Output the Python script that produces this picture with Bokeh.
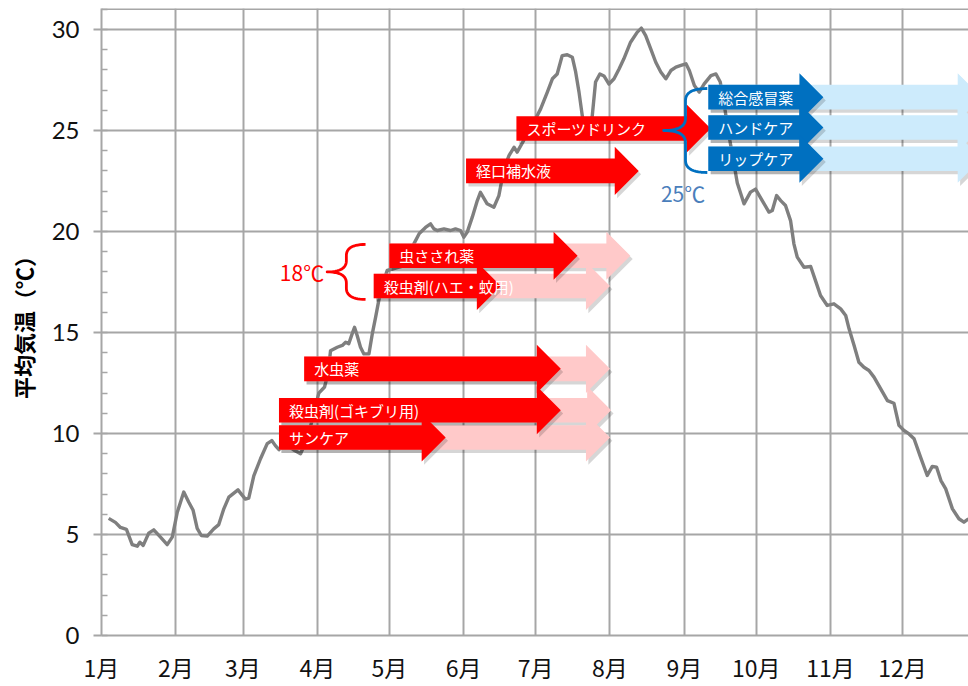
import numpy as np
from bokeh.plotting import figure
from bokeh.models import FixedTicker, Range1d, Span, ColumnDataSource
from bokeh.core.properties import value
from bokeh.embed import file_html
from bokeh.resources import INLINE

# ---------------- data ----------------
# daily mean temperature (day of year, degC)
days = [3, 5.8, 7.9, 10.4, 12.8, 14.9, 16, 17.4, 19.7, 21.8, 24.6, 27.4, 29.5, 31.6, 34.3, 36.4,
        38.2, 39.9, 41.6, 44.1, 46.8, 48.9, 51, 53.1, 55.2, 56.9, 58.3, 60, 61.4, 63.5, 66.3,
        69.1, 71, 72.5, 74, 76, 80, 83, 86, 88.5, 90.6, 93, 94.5, 95.5, 98.3, 100.4, 101.8,
        103.1, 104.5, 105.5, 106.6, 108, 109.4, 111.5, 112.9, 114.3, 115.6, 117, 119.1, 123,
        126, 128, 130.3, 132.5, 135.1, 137.2, 138.6, 140, 142.8, 145.5, 147.6, 149.7, 151.1,
        152.5, 154.6, 156.7, 158, 160.8, 163.6, 165.7, 167.8, 169.9, 172, 173.3, 176, 178,
        180.2, 183.1, 185.9, 188, 190, 192.1, 194.2, 196.3, 197.7, 199.1, 200.5, 202, 203.5,
        204.6, 206, 207.8, 209.5, 211.6, 213.7, 215.8, 217.8, 220.6, 223.4, 225.1, 226.9, 229,
        231.1, 233.2, 235.3, 237.4, 239.5, 241.6, 243.7, 245.1, 247.2, 249.2, 251.3, 254.1,
        256.2, 258, 260, 262, 263.5, 265.1, 267.9, 270.6, 272.7, 275.5, 278.3, 279.7, 281.5,
        283.2, 285.2, 287.3, 288.7, 290.1, 292.9, 295.7, 297.7, 299.8, 302.6, 305.4, 308.2,
        310.3, 311.7, 313.8, 315.8, 317.9, 320, 322.1, 324.9, 327.7, 330.4, 332.5, 334.6,
        336.7, 338.8, 341.5, 344.3, 346.4, 348.2, 350, 352, 354.8, 357.5, 359.6, 361.5]
temps = [5.8, 5.6, 5.35, 5.25, 4.5, 4.42, 4.62, 4.46, 5.07, 5.23, 4.87, 4.5, 4.87, 6.1, 7.1, 6.6,
         6.2, 5.3, 4.95, 4.92, 5.28, 5.49, 6.27, 6.85, 7.05, 7.21, 7.0, 6.75, 6.8, 7.9, 8.75,
         9.5, 9.65, 9.4, 9.2, 9.5, 9.2, 9.0, 9.8, 11.0, 12.0, 12.3, 13.0, 14.1, 14.27, 14.36, 14.52,
         14.44, 14.93, 15.26, 14.85, 14.27, 13.94, 13.94, 14.93, 15.76, 16.58, 17.3, 18.07, 18.2,
         18.3, 18.9, 19.4, 19.9, 20.2, 20.38, 20.13, 20.05, 20.13, 20.05, 20.13, 20.05, 19.72,
         19.97, 20.71, 21.53, 21.94, 21.37, 21.2, 21.78, 23.1, 23.76, 24.17, 23.93, 24.5, 25.0,
         25.4, 26.07, 26.9, 27.56, 27.8, 28.71, 28.75, 28.63, 27.9, 26.9, 25.7, 24.6, 24.8,
         25.7, 27.4, 27.8, 27.7, 27.3, 27.56, 28.05, 28.55, 29.37, 29.87, 30.07, 29.7, 29.04,
         28.38, 27.9, 27.56, 27.97, 28.14, 28.22, 28.3, 27.97, 27.23, 26.9, 27.31, 27.72,
         27.8, 27.4, 26.0, 24.5, 23.5, 22.4, 21.37, 21.95, 22.1, 21.53, 20.96, 21.04, 21.78,
         21.53, 21.29, 20.54, 19.39, 18.73, 18.23, 18.27, 17.57, 16.83, 16.34, 16.42, 16.17,
         15.84, 15.18, 14.36, 13.53, 13.28, 13.12, 12.79, 12.21, 11.63, 11.5, 10.4, 10.15,
         9.98, 9.74, 8.83, 7.92, 8.37, 8.33, 7.67, 7.26, 6.27, 5.78, 5.61, 5.78]

month_starts = [0, 31, 59, 90, 120, 151, 181, 212, 243, 273, 304, 334]
month_labels = ["1月", "2月", "3月", "4月", "5月", "6月", "7月", "8月", "9月", "10月", "11月", "12月"]
y_ticks = [0, 5, 10, 15, 20, 25, 30]

# warm-season products (red arrows): start day, strong-demand end, tail end, temperature level
red_names = ["虫さされ薬", "殺虫剤(ハエ・蚊用)", "水虫薬", "殺虫剤(ゴキブリ用)", "サンケア"]
red_levels = [18.8, 17.3, 13.2, 11.15, 9.8]
red_start = [120, 113.5, 84.5, 74, 74]
red_end = [198.5, 166.5, 191.5, 191.5, 143.5]
red_tail = [220.5, 212, 212, 212.5, 212]

drink_names = ["経口補水液", "スポーツドリンク"]
drink_levels = [23.0, 25.1]
drink_start = [152, 173]
drink_end = [224, 254]

# cold-season products (blue arrows)
blue_names = ["総合感冒薬", "ハンドケア", "リップケア"]
blue_levels = [26.65, 25.15, 23.6]
blue_start = [253, 253, 253]
blue_end = [301, 301, 301]
blue_tail = [367, 367, 367]

red_threshold = 18
blue_threshold = 25

# ---------------- styling ----------------
GRID = "#a6a6a6"
RED = "#ff0000"
PINK = "#ffc9c9"
BLUE = "#0070c0"
LBLUE = "#cdebfc"
JP = "Noto Sans CJK JP"

Y_TOP = 31.04
p = figure(width=968, height=686, output_backend="svg", toolbar_location=None,
           x_range=Range1d(0, 361.5), y_range=Range1d(0, Y_TOP),
           min_border_left=101, min_border_right=0, min_border_top=8, min_border_bottom=51)
p.outline_line_color = None
p.background_fill_color = "white"
p.border_fill_color = "white"

# axes
p.xaxis.ticker = FixedTicker(ticks=month_starts)
p.xaxis.major_label_overrides = {m: l for m, l in zip(month_starts, month_labels)}
p.xaxis.major_tick_out = 0
p.xaxis.major_tick_in = 0
p.xaxis.minor_tick_out = 0
p.xaxis.axis_line_color = GRID
p.xaxis.axis_line_width = 2
p.xaxis.major_label_text_font = JP
p.xaxis.major_label_text_font_size = "23px"
p.xaxis.major_label_text_color = "#111111"
p.xaxis.major_label_standoff = 14

p.yaxis.ticker = FixedTicker(ticks=y_ticks, minor_ticks=list(range(0, 32)))
p.yaxis.major_tick_out = 8
p.yaxis.major_tick_in = 0
p.yaxis.minor_tick_in = 6
p.yaxis.minor_tick_out = 0
p.yaxis.major_tick_line_color = GRID
p.yaxis.minor_tick_line_color = GRID
p.yaxis.major_tick_line_width = 2
p.yaxis.minor_tick_line_width = 1.5
p.yaxis.axis_line_color = GRID
p.yaxis.axis_line_width = 2
p.yaxis.major_label_text_font = "Lato"
p.yaxis.major_label_text_font_size = "24px"
p.yaxis.major_label_text_color = "#111111"
p.yaxis.major_label_standoff = 14
p.yaxis.axis_label = "平均気温（℃）"
p.yaxis.axis_label_text_font = JP
p.yaxis.axis_label_text_font_size = "22px"
p.yaxis.axis_label_text_font_style = "bold"
p.yaxis.axis_label_text_color = "#000000"
p.yaxis.axis_label_standoff = 10

p.xgrid.ticker = FixedTicker(ticks=month_starts)
p.ygrid.ticker = FixedTicker(ticks=y_ticks)
for g in (p.xgrid, p.ygrid):
    g.grid_line_color = GRID
    g.grid_line_width = 2
p.add_layout(Span(location=Y_TOP, dimension="width", line_color=GRID, line_width=3))

# temperature line
p.line(days, temps, line_color="#7f7f7f", line_width=3.4, line_join="round")

# ---------------- arrows ----------------
BODY = 0.61   # half height of arrow body (degC units)
HEAD = 1.19   # half height of arrow head
HL = 10.0     # head length (days)


def arrow_shape(x0, x1, yc):
    xb = x1 - HL
    xs = [x0, xb, xb, x1, xb, xb, x0]
    ys = [yc + BODY, yc + BODY, yc + HEAD, yc, yc - HEAD, yc - BODY, yc - BODY]
    return xs, ys


def draw_arrows(starts, ends, levels, color, shadow=True):
    xs_all, ys_all = [], []
    for s, e, lv in zip(starts, ends, levels):
        xs, ys = arrow_shape(s, e, lv)
        xs_all.append(xs)
        ys_all.append(ys)
    if shadow:
        p.patches([[x + 1.0 for x in xs] for xs in xs_all],
                  [[y - 0.16 for y in ys] for ys in ys_all],
                  fill_color="#000000", fill_alpha=0.16, line_color=None)
    p.patches(xs_all, ys_all, fill_color=color, line_color=None)


# faded tails first
draw_arrows(red_start, red_tail, red_levels, PINK)
draw_arrows(blue_start, blue_tail, blue_levels, LBLUE)
# strong periods
draw_arrows(drink_start, drink_end, drink_levels, RED)
draw_arrows(red_start, red_end, red_levels, RED)
draw_arrows(blue_start, blue_end, blue_levels, BLUE)

# labels inside arrows
lab_src = ColumnDataSource(dict(x=red_start + drink_start + blue_start,
                                y=red_levels + drink_levels + blue_levels,
                                t=red_names + drink_names + blue_names))
p.text(x="x", y="y", text="t", source=lab_src, x_offset=10, text_align="left",
       text_baseline="middle", text_color="white", text_font=value(JP),
       text_font_size="15px")


# ---------------- braces ----------------
def brace(xc, yc, h, w, r):
    xm = xc + w / 2.0
    t = np.linspace(0, 1, 14)

    def quad(p0, p1, p2):
        bx = (1 - t) ** 2 * p0[0] + 2 * (1 - t) * t * p1[0] + t ** 2 * p2[0]
        by = (1 - t) ** 2 * p0[1] + 2 * (1 - t) * t * p1[1] + t ** 2 * p2[1]
        return list(bx), list(by)

    a = quad((xc + w, yc + h), (xm, yc + h), (xm, yc + h - r))
    b = quad((xm, yc + r), (xm, yc), (xc, yc))
    c = quad((xc, yc), (xm, yc), (xm, yc - r))
    d = quad((xm, yc - h + r), (xm, yc - h), (xc + w, yc - h))
    xs = a[0] + b[0] + c[0] + d[0]
    ys = a[1] + b[1] + c[1] + d[1]
    return xs, ys


rb_x, rb_y = brace(94.1, red_threshold, 1.36, 16.0, 0.55)
p.line(rb_x, rb_y, line_color=RED, line_width=2.8, line_join="round")
p.text(x=[94.1], y=[red_threshold], text=[f"{red_threshold}℃"], x_offset=-3,
       text_align="right", text_baseline="middle", text_color=RED,
       text_font=value(JP), text_font_size="21px")

bb_x, bb_y = brace(234.4, blue_threshold, 2.08, 18.2, 0.6)
p.line(bb_x, bb_y, line_color=BLUE, line_width=2.8, line_join="round")
p.text(x=[242.5], y=[blue_threshold - 2.08], text=[f"{blue_threshold}℃"], y_offset=5,
       text_align="center", text_baseline="top", text_color="#4a7ebb",
       text_font=value(JP), text_font_size="21px")

open("out.html", "w").write(file_html(p, INLINE))
